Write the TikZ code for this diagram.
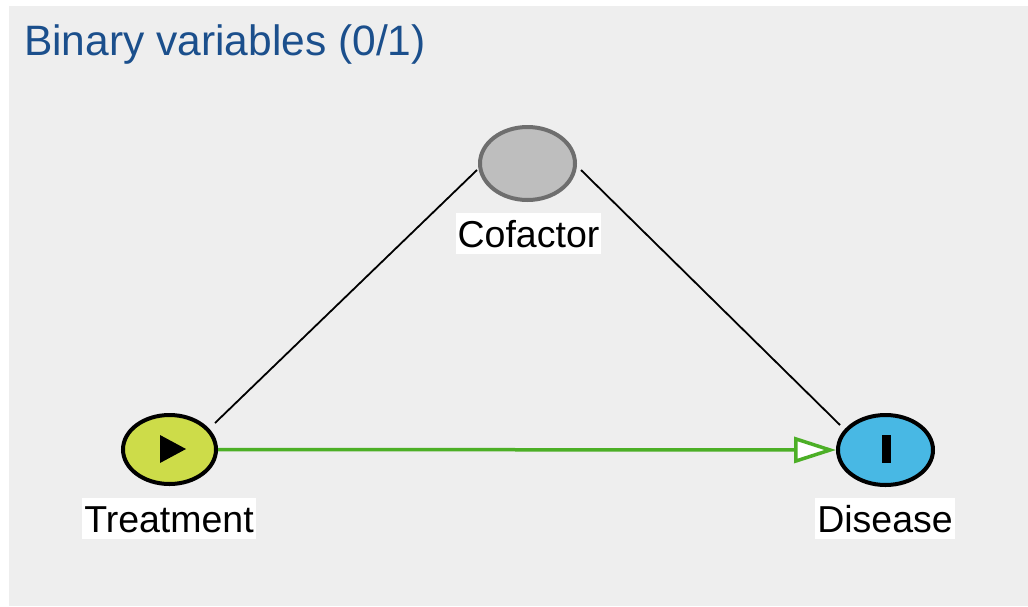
\documentclass[tikz,border=0pt]{standalone}
\usepackage{fontspec}
\setmainfont{Liberation Sans}
\usetikzlibrary{shapes.geometric,arrows.meta,calc}
\definecolor{panelgray}{HTML}{EEEEEE}
\definecolor{titleblue}{HTML}{1B4F8C}
\definecolor{exposure}{HTML}{CDDC49}
\definecolor{outcome}{HTML}{48B8E4}
\definecolor{covfill}{HTML}{BEBEBE}
\definecolor{covline}{HTML}{6E6E6E}
\definecolor{causal}{HTML}{4CAF26}
\tikzset{
  varnode/.style={ellipse, draw=black, line width=4pt, inner sep=0pt},
  varlabel/.style={anchor=base, fill=white, inner xsep=2pt, inner ysep=0pt,
    text height=34pt, text depth=7pt, font=\fontsize{37.5}{40}\selectfont},
  biasline/.style={draw=black, line width=1.8pt},
  effect/.style={draw=causal, line width=3.5pt,
    -{Triangle[length=42pt, width=26pt, fill=white]}}
}
\begin{document}
\begin{tikzpicture}[x=1pt, y=-1pt]
  % canvas and panel
  \useasboundingbox (0,0) rectangle (1028,606);
  \fill[white] (0,0) rectangle (1028,606);
  \fill[panelgray] (9,6) rectangle (1028,606);

  % title
  \node[anchor=base west, inner sep=0pt, text=titleblue,
        font=\fontsize{42.5}{46}\selectfont] (title) at (24,55) {Binary variables (0/1)};

  % variables
  \node[varnode, fill=exposure, minimum width=93pt, minimum height=69pt] (trt) at (169.5,449.5) {};
  \node[varnode, fill=outcome, minimum width=95pt, minimum height=70pt] (dis) at (885.5,450) {};
  \node[varnode, draw=covline, fill=covfill,
        minimum width=95pt, minimum height=73pt] (cof) at (527.5,163.5) {};

  % icons inside the nodes
  \fill[black] (160,435) -- (160,463) -- (186,449) -- cycle;
  \fill[black] (881.5,435) rectangle (890.5,463);

  % labels
  \node[varlabel] (trtlab) at (169,532) {Treatment};
  \node[varlabel] (coflab) at (528.5,247) {Cofactor};
  \node[varlabel] (dislab) at (885,532) {Disease};

  % connector end points
  \coordinate (trtUp) at ($(trt.center)+(45.5,-26.5)$);
  \coordinate (cofL) at ($(cof.center)+(-50.5,6.5)$);
  \coordinate (cofR) at ($(cof.center)+(53.5,6.5)$);
  \coordinate (disUp) at ($(dis.center)+(-45.5,-25)$);

  % connectors
  \draw[biasline] (trtUp) -- (cofL);
  \draw[biasline] (cofR) -- (disUp);
  \draw[effect] (trt.east) -- (dis.west);
\end{tikzpicture}
\end{document}
